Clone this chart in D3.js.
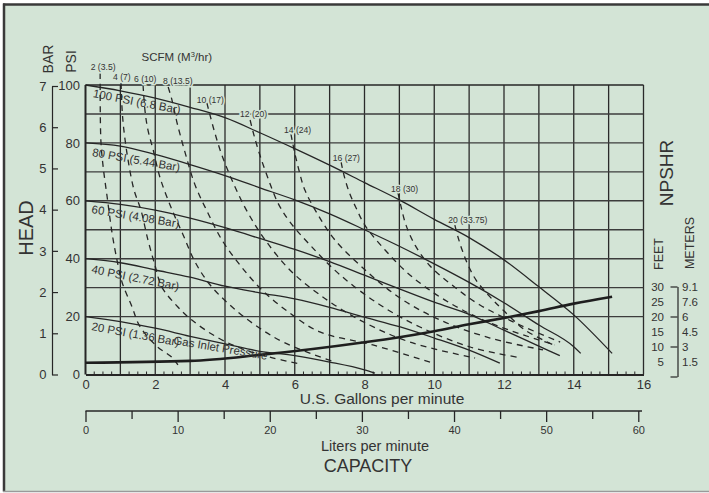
<!DOCTYPE html>
<html><head><meta charset="utf-8">
<script src="https://cdn.jsdelivr.net/npm/d3@7"></script>
<style>html,body{margin:0;padding:0;background:#fff;}svg{display:block;font-family:"Liberation Sans",Arial,sans-serif;}</style>
</head><body>
<svg id="c" width="709" height="493"></svg>
<script>
// ---------- DATA ----------
const gpmTicks = [0,2,4,6,8,10,12,14,16];
const literTicksMajor = [0,10,20,30,40,50,60];
const literTicksMinor = [5,15,25,35,45,55];
const psiTicks = [0,20,40,60,80,100];
const barTicks = [0,1,2,3,4,5,6,7];
const feetLabels = [5,10,15,20,25,30];
const meterLabels = ["1.5","3","4.5","6","7.6","9.1"];
const feetTicks = [0,10,20,30];

// head curves: [gpm, psi]
const psi100 = [[0,100],[1,98],[2,95.5],[3,92.3],[4,88.7],[5,83.5],[6,78],[7,72.3],[8,66.3],[9,60.3],[10,53.6],[11,47.3],[12,39.6],[13,30.3],[14,20.6],[15.1,7.3]];
const psi80  = [[0,80],[1,78.9],[2,76],[3,72.5],[4,68.7],[5,64.5],[6,60.3],[7,55.5],[8,50],[9,44.3],[10,38.2],[11,31.8],[12,24.8],[13,17.1],[14,9.6],[14.2,7.3]];
const psi60  = [[0,60],[1,58.8],[2,56.8],[3,54],[4,50.7],[5,47],[6,43.2],[7,39],[8,34.3],[9,29.6],[10,25],[11,20.8],[12,15.3],[13,9.8],[13.6,6.5]];
const psi40  = [[0,40],[1,38.6],[2,36.1],[3,33.6],[4,30.5],[5,28.2],[6,26.1],[7,23.2],[8,19.8],[9,16.5],[10,12.6],[11,8.4],[11.88,3.9]];
const psi20  = [[0,20],[1,18.3],[2,16],[3,13.2],[4,10.6],[5,8],[6,6.5],[7,4.3],[8,1.6],[8.3,0.5]];
const headCurves = [psi100, psi80, psi60, psi40, psi20];
const headLabels = ["100 PSI (6.8 Bar)","80 PSI (5.44 Bar)","60 PSI (4.08 Bar)","40 PSI (2.72 Bar)","20 PSI (1.36 Bar)"];

// NPSHR curve: [gpm, feet]
const npshr = [[0,4.6],[3,5.2],[5,7.2],[8,11.4],[9,13.1],[10,15.1],[11,17.4],[12,19.5],[13,21.8],[14,24.3],[15.1,26.6]];

// air consumption lines (SCFM): [gpm, psi]
const scfmLabels = ["2 (3.5)","4 (7)","6 (10)","8 (13.5)","10 (17)","12 (20)","14 (24)","16 (27)","18 (30)","20 (33.75)"];
const scfm2  = [[0.42,104.1],[0.44,81],[0.5,72.4],[0.62,61.4],[0.76,49],[0.9,39.7],[1.05,31.8],[1.33,23.5],[1.56,16.6],[2.05,9.7],[2.48,5.9],[2.65,3.3]];
const scfm4  = [[1.02,100.7],[1.05,91.4],[1.1,84.5],[1.22,74.1],[1.39,63.8],[1.59,56.8],[1.79,46.5],[1.99,37.8],[2.19,30.2],[2.65,23.3],[3.05,18.8],[3.71,13.3],[4.43,9.15],[5.29,6],[6.15,3.6]];
const scfm6  = [[1.65,100],[1.71,90.7],[1.79,84.5],[1.94,77.6],[2.14,67.9],[2.48,56.9],[2.8,48.2],[3.14,38.9],[3.57,31],[4.14,24],[4.86,17.1],[5.72,10.9],[7.15,4.3]];
const scfm8  = [[2.37,99.3],[2.48,94.8],[2.62,87.2],[2.85,76.9],[3.14,65.5],[3.51,55.8],[3.91,46.5],[4.43,37.8],[5.06,29.2],[5.86,21.2],[6.72,14.7],[8.24,10.2],[9.94,4]];
const scfm10 = [[3.48,93.8],[3.57,89.6],[3.71,83.4],[3.91,75.8],[4.26,65.5],[4.66,55.8],[5.15,46.5],[5.86,36.1],[6.72,27.5],[7.87,18.8],[9.3,11.2],[11.17,5.7]];
const scfm12 = [[4.72,87.9],[4.83,82.7],[5,75.8],[5.23,67.9],[5.52,59.2],[5.86,52.7],[6.44,44.7],[7.3,34.4],[8.45,24],[9.59,16.4],[11.03,9.5],[12.37,6]];
const scfm14 = [[5.89,83.1],[5.98,77.6],[6.12,70.6],[6.29,63.7],[6.67,55.1],[7.15,46.5],[8.02,36.1],[9.02,26.4],[10.17,18.8],[11.6,12.6],[13.12,8.5]];
const scfm16 = [[7.33,73.4],[7.41,68.9],[7.56,63],[7.76,57.5],[8.01,51.6],[8.59,43],[9.3,34.4],[10.31,25.7],[11.6,17.8],[13.46,10.2]];
const scfm18 = [[8.96,62.7],[9.05,57.9],[9.19,51.6],[9.45,44.7],[9.88,37.5],[10.51,30.9],[11.31,24],[12.46,17.1],[13.61,11.2]];
const scfm20 = [[10.59,51.6],[10.68,47.5],[10.8,43],[10.97,37.8],[11.2,32.6],[11.6,26.8],[11.97,22.3],[12.6,15.4],[13.49,9.8]];
const scfmLines = [scfm2,scfm4,scfm6,scfm8,scfm10,scfm12,scfm14,scfm16,scfm18,scfm20];

// ---------- DRAW ----------
const BG = "#d3e4d6", INK = "#262626", TXT = "#333";
const FONT = "Liberation Sans, Arial, sans-serif";
const svg = d3.select("#c");
svg.append("rect").attr("x",0).attr("y",0).attr("width",709).attr("height",493).attr("fill","#fff");
svg.append("rect").attr("x",4).attr("y",4.5).attr("width",720).attr("height",487).attr("fill",BG);
svg.append("line").attr("x1",4).attr("x2",4).attr("y1",3.5).attr("y2",491.5).attr("stroke","#3a3a3a").attr("stroke-width",2.5);
svg.append("line").attr("x1",3).attr("x2",709).attr("y1",4.5).attr("y2",4.5).attr("stroke","#3a3a3a").attr("stroke-width",2.5);
svg.append("line").attr("x1",3).attr("x2",709).attr("y1",491.5).attr("y2",491.5).attr("stroke","#9a9a9a").attr("stroke-width",1.5);

const x = d3.scaleLinear().domain([0,16]).range([85.5,643.5]);
const y = d3.scaleLinear().domain([0,100]).range([374.5,85]);
const yBar = d3.scaleLinear().domain([0,7]).range([374.5,86]);
const yFt = d3.scaleLinear().domain([0,30]).range([376.5,286.5]);
const LPG = 3.78541;
const xL = d3.scaleLinear().domain([0,60]).range([x(0), x(60/LPG)]);

// grid
const g = svg.append("g");
g.selectAll(".vg").data(d3.range(1,17)).join("line")
  .attr("x1",d=>x(d)).attr("x2",d=>x(d)).attr("y1",y(0)).attr("y2",y(100))
  .attr("stroke","#2a2a2a").attr("stroke-width",1.3);
g.selectAll(".hg").data([20,30,40,50,60,70,80,90]).join("line")
  .attr("x1",x(0)).attr("x2",x(16)).attr("y1",d=>y(d)).attr("y2",d=>y(d))
  .attr("stroke","#3c3c3c").attr("stroke-width",1.4);
g.append("line").attr("x1",x(0)).attr("x2",x(16)).attr("y1",y(100)).attr("y2",y(100)).attr("stroke",INK).attr("stroke-width",1.5);
g.append("line").attr("x1",x(0)).attr("x2",x(0)).attr("y1",y(100)).attr("y2",y(0)).attr("stroke",INK).attr("stroke-width",2);

// bottom gpm axis
const minor = d3.range(0,16.01,0.25).filter(v=>Math.abs(v-Math.round(v))>0.01);
g.selectAll(".mt").data(minor).join("line")
  .attr("x1",d=>x(d)).attr("x2",d=>x(d)).attr("y1",y(0)).attr("y2",y(0)-3)
  .attr("stroke",INK).attr("stroke-width",1);
const ax = svg.append("g").attr("transform",`translate(0,${y(0)})`)
  .call(d3.axisBottom(x).tickValues(gpmTicks).tickSize(0).tickPadding(5).tickFormat(d3.format("d")));
ax.select(".domain").attr("stroke",INK).attr("stroke-width",2.2);
ax.selectAll("text").attr("font-size",13).attr("fill",TXT).attr("font-family",FONT);

// psi labels
const ap = svg.append("g").attr("transform",`translate(${x(0)},0)`)
  .call(d3.axisLeft(y).tickValues(psiTicks).tickSize(0).tickPadding(5.5).tickFormat(d3.format("d")));
ap.select(".domain").remove();
ap.selectAll("text").attr("font-size",13).attr("fill",TXT).attr("font-family",FONT);

// bar axis
const ab = svg.append("g").attr("transform","translate(52,0)")
  .call(d3.axisLeft(yBar).tickValues(barTicks).tickSizeInner(-6).tickSizeOuter(0).tickPadding(5.5).tickFormat(d3.format("d")));
ab.select(".domain").attr("stroke",INK).attr("stroke-width",1.2);
ab.selectAll("line").attr("stroke",INK).attr("stroke-width",1.2);
ab.selectAll("text").attr("font-size",13).attr("fill",TXT).attr("font-family",FONT);

// liters axis
const lY = 411;
svg.append("line").attr("x1",x(0)).attr("x2",642).attr("y1",lY).attr("y2",lY).attr("stroke",INK).attr("stroke-width",1.3);
const al = svg.append("g").attr("transform",`translate(0,${lY})`)
  .call(d3.axisBottom(xL).tickValues(literTicksMajor).tickSizeInner(11).tickSizeOuter(0).tickPadding(4.5).tickFormat(d3.format("d")));
al.select(".domain").remove();
al.selectAll("line").attr("stroke",INK).attr("stroke-width",1.3);
al.selectAll("text").attr("font-size",11).attr("fill",TXT).attr("font-family",FONT);
const al2 = svg.append("g").attr("transform",`translate(0,${lY})`)
  .call(d3.axisBottom(xL).tickValues(literTicksMinor).tickSizeInner(8).tickSizeOuter(0).tickFormat(""));
al2.select(".domain").remove();
al2.selectAll("line").attr("stroke",INK).attr("stroke-width",1.3);

// NPSHR axis
const an = svg.append("g").attr("transform","translate(677.5,0)")
  .call(d3.axisLeft(yFt).tickValues(feetTicks).tickSizeInner(7).tickSizeOuter(0).tickFormat(""));
an.select(".domain").attr("stroke",INK).attr("stroke-width",1.2);
an.selectAll("line").attr("stroke",INK).attr("stroke-width",1.2);
svg.append("g").selectAll("text").data(feetLabels).join("text")
  .attr("x",664).attr("y",d=>yFt(d)).attr("dy","0.36em").attr("text-anchor","end")
  .attr("font-size",11.5).attr("fill",TXT).text(d=>d);
svg.append("g").selectAll("text").data(meterLabels).join("text")
  .attr("x",682).attr("y",(d,i)=>yFt(feetLabels[i])).attr("dy","0.36em").attr("text-anchor","start")
  .attr("font-size",11.5).attr("fill",TXT).text(d=>d);

// curves
const line = d3.line().x(d=>x(d[0])).y(d=>y(d[1])).curve(d3.curveMonotoneX);
const lineC = d3.line().x(d=>x(d[0])).y(d=>y(d[1])).curve(d3.curveCatmullRom.alpha(0.5));
svg.append("g").selectAll("path").data(scfmLines).join("path")
  .attr("d",lineC).attr("fill","none").attr("stroke",INK).attr("stroke-width",1.3).attr("stroke-dasharray","6,5");
svg.append("g").selectAll("path").data(headCurves).join("path")
  .attr("d",line).attr("fill","none").attr("stroke",INK).attr("stroke-width",1.3);
const lineN = d3.line().x(d=>x(d[0])).y(d=>yFt(d[1])).curve(d3.curveMonotoneX);
svg.append("path").datum(npshr).attr("d",lineN).attr("fill","none").attr("stroke","#1e1e1e").attr("stroke-width",2.6);

// head curve labels
const hlPos = [[0.2,97,11],[0.18,156,10],[0.16,213,9.5],[0.16,272.7,11.5],[0.16,330,10.5]];
svg.append("g").selectAll("text").data(headLabels).join("text")
  .attr("transform",(d,i)=>`translate(${x(hlPos[i][0])},${hlPos[i][1]}) rotate(${hlPos[i][2]})`)
  .attr("font-size",11.5).attr("fill",TXT).text(d=>d);
svg.append("text").attr("transform",`translate(173,344) rotate(9.5)`).attr("font-size",11.5).attr("fill",TXT).text("Gas Inlet Pressure");

// scfm labels
const slPos = [[90.7,70],[113,80],[134,82],[163,83.5],[196.7,103],[240,117],[284,133],[332.7,161],[391,191.5],[448.3,223]];
svg.append("g").selectAll("text").data(scfmLabels).join("text")
  .attr("x",(d,i)=>slPos[i][0]).attr("y",(d,i)=>slPos[i][1])
  .attr("font-size",8.6).attr("fill",TXT)
  .attr("stroke",BG).attr("stroke-width",3).attr("paint-order","stroke").text(d=>d);

// titles
function T(t,xx,yy,fs,rot,anchor){
  svg.append("text").attr("transform",`translate(${xx},${yy}) rotate(${rot||0})`)
   .attr("text-anchor",anchor||"middle").attr("font-size",fs).attr("fill",TXT).text(t);
}
T("HEAD",33,228,20,-90);
T("BAR",53,59,14,-90);
T("PSI",76,61.5,14,-90);
svg.append("text").attr("x",141.5).attr("y",61).attr("font-size",11.5).attr("fill",TXT)
  .html('SCFM (M<tspan font-size="7.5" dy="-4">3</tspan><tspan dy="4">/hr)</tspan>');
T("U.S. Gallons per minute",382,403.5,15.5,0);
T("Liters per minute",375,451,14.5,0);
T("CAPACITY",368,471.5,18,0);
T("NPSHR",673,173,19,-90);
T("FEET",663,254,12.5,-90);
T("METERS",694,243,12.5,-90);
</script>
</body></html>
